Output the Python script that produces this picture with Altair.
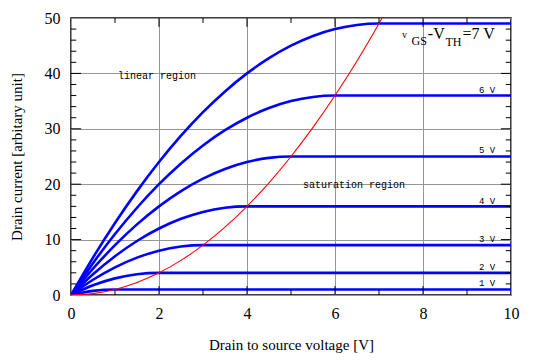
import altair as alt
import pandas as pd

# ---- data ----
vds_grid = [0, 0.5, 1, 1.5, 2, 2.5, 3, 3.5, 4, 4.5, 5, 5.5, 6, 6.5, 7]
vds_end = 10
overdrive = [1, 2, 3, 4, 5, 6, 7]
id_1V = [0, 0.75, 1]
id_2V = [0, 1.75, 3, 3.75, 4]
id_3V = [0, 2.75, 5, 6.75, 8, 8.75, 9]
id_4V = [0, 3.75, 7, 9.75, 12, 13.75, 15, 15.75, 16]
id_5V = [0, 4.75, 9, 12.75, 16, 18.75, 21, 22.75, 24, 24.75, 25]
id_6V = [0, 5.75, 11, 15.75, 20, 23.75, 27, 29.75, 32, 33.75, 35, 35.75, 36]
id_7V = [0, 6.75, 13, 18.75, 24, 28.75, 33, 36.75, 40, 42.75, 45, 46.75, 48, 48.75, 49]
curves = [id_1V, id_2V, id_3V, id_4V, id_5V, id_6V, id_7V]

boundary_vds = [0, 0.5, 1, 1.5, 2, 2.5, 3, 3.5, 4, 4.5, 5, 5.5, 6, 6.5, 7, 7.07]
boundary_id = [0, 0.25, 1, 2.25, 4, 6.25, 9, 12.25, 16, 20.25, 25, 30.25, 36, 42.25, 49, 50]

curve_labels = ["1 V", "2 V", "3 V", "4 V", "5 V", "6 V"]
curve_label_y = [1.6, 4.5, 9.5, 16.5, 25.6, 36.5]
curve_label_x = 9.64

region_texts = ["linear region", "saturation region"]
region_x = [1.07, 5.27]
region_y = [39.0, 19.3]

main_pieces = ["v", "GS", "-V", "TH", "=7 V"]
main_x = [7.52, 7.74, 8.11, 8.51, 8.9]
main_y = [46.4, 45.1, 46.2, 44.9, 46.2]
main_size = [10, 12, 16, 12, 16]

x_ticks = [0, 2, 4, 6, 8, 10]
y_ticks = [0, 10, 20, 30, 40, 50]
x_minor = [1, 3, 5, 7, 9]
x_major_inner = [2, 4, 6, 8]
y_minor = [2, 4, 6, 8, 12, 14, 16, 18, 22, 24, 26, 28, 32, 34, 36, 38, 42, 44, 46, 48]
y_major_inner = [10, 20, 30, 40]
# tick lengths in data units (x ticks measured along y, y ticks measured along x)
x_tick_len_minor, x_tick_len_major = 0.9, 1.6
y_tick_len_minor, y_tick_len_major = 0.12, 0.23

# ---- tables ----
rows = []
for vov, ids in zip(overdrive, curves):
    for v, i in zip(vds_grid, ids):
        rows.append({"vds": v, "id": i, "vov": vov})
    rows.append({"vds": vds_end, "id": ids[-1], "vov": vov})
curve_df = pd.DataFrame(rows)
boundary_df = pd.DataFrame({"vds": boundary_vds, "id": boundary_id})
lab_df = pd.DataFrame({"vds": [curve_label_x] * len(curve_labels), "id": curve_label_y, "t": curve_labels})
reg_df = pd.DataFrame({"vds": region_x, "id": region_y, "t": region_texts})

W, H = 440, 277
serif = "Liberation Serif"
mono = "Liberation Mono"

xscale = alt.Scale(domain=[0, 10], nice=False)
yscale = alt.Scale(domain=[0, 50], nice=False)
xaxis = alt.Axis(values=x_ticks, title="Drain to source voltage [V]", grid=True, gridColor="#959595",
                 gridWidth=1, tickSize=0, domain=False, labelFont=serif, labelFontSize=16, labelFlush=False,
                 labelColor="black", labelPadding=10, titleFont=serif, titleFontSize=15,
                 titleFontWeight="normal", titleColor="black", titlePadding=16)
yaxis = alt.Axis(values=y_ticks, title="Drain current [arbitary unit]", grid=True, gridColor="#959595",
                 gridWidth=1, tickSize=0, domain=False, labelFont=serif, labelFontSize=16, labelFlush=False,
                 labelColor="black", labelPadding=11, titleFont=serif, titleFontSize=15,
                 titleFontWeight="normal", titleColor="black", titlePadding=20)


def X(field="vds"):
    return alt.X(f"{field}:Q", scale=xscale, axis=xaxis)


def Y(field="id"):
    return alt.Y(f"{field}:Q", scale=yscale, axis=yaxis)


lines = alt.Chart(curve_df).mark_line(color="#0000ff", strokeWidth=2.6, interpolate="monotone", clip=True).encode(
    x=X(), y=Y(), detail="vov:N")
red = alt.Chart(boundary_df).mark_line(color="#ff0000", strokeWidth=1.1, interpolate="monotone", clip=True).encode(
    x=X(), y=Y())

labels = alt.Chart(lab_df).mark_text(font=mono, fontSize=9, align="right", baseline="alphabetic", color="black").encode(
    x=X(), y=Y(), text="t:N")
regions = alt.Chart(reg_df).mark_text(font=mono, fontSize=10, align="left", baseline="alphabetic", color="black").encode(
    x=X(), y=Y(), text="t:N")

main_layers = []
for t, xv, yv, sz in zip(main_pieces, main_x, main_y, main_size):
    d = pd.DataFrame({"vds": [xv], "id": [yv], "t": [t]})
    main_layers.append(alt.Chart(d).mark_text(font=serif, fontSize=sz, align="left", baseline="alphabetic",
                                              color="black").encode(x=X(), y=Y(), text="t:N"))


# inward ticks drawn as short rules on the frame
def xticks(vals, length):
    b = pd.DataFrame({"vds": vals, "id": [0] * len(vals), "id2": [length] * len(vals)})
    t = pd.DataFrame({"vds": vals, "id": [50] * len(vals), "id2": [50 - length] * len(vals)})
    return [alt.Chart(d).mark_rule(color="black", strokeWidth=1).encode(x=X(), y=Y(), y2="id2:Q") for d in (b, t)]


def yticks(vals, length):
    l = pd.DataFrame({"id": vals, "vds": [0] * len(vals), "vds2": [length] * len(vals)})
    r = pd.DataFrame({"id": vals, "vds": [10] * len(vals), "vds2": [10 - length] * len(vals)})
    return [alt.Chart(d).mark_rule(color="black", strokeWidth=1).encode(y=Y(), x=X(), x2="vds2:Q") for d in (l, r)]


tick_layers = (xticks(x_minor, x_tick_len_minor) + xticks(x_major_inner, x_tick_len_major)
               + yticks(y_minor, y_tick_len_minor) + yticks(y_major_inner, y_tick_len_major))

chart = alt.layer(lines, red, *tick_layers, labels, regions, *main_layers).properties(
    width=W, height=H, autosize=alt.AutoSizeParams(type="none"),
    padding={"left": 63, "top": 10, "right": 21, "bottom": 62},
    background="white",
).configure_view(stroke="black", strokeWidth=1.5)

chart.save("out.html", embed_options={"renderer": "svg", "actions": False})
